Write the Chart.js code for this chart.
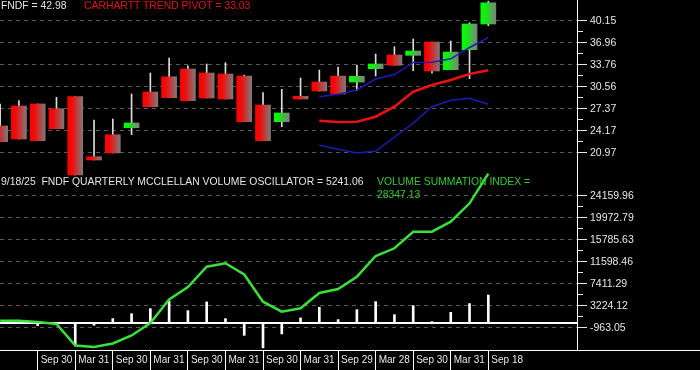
<!DOCTYPE html>
<html lang="en">
<head>
    <meta charset="UTF-8">
    <title>FNDF Quarterly McClellan Volume Oscillator</title>
    <script src="https://cdn.jsdelivr.net/npm/chart.js"></script>
    <style>
        body {
            margin: 0;
            width: 700px;
            height: 370px;
            overflow: hidden;
            position: relative;
            background-color: #000;
            font-family: "Liberation Sans", Arial, sans-serif;
        }
        #priceChart {
            position: absolute;
            left: 0;
            top: 0;
        }
        #volumeChart {
            position: absolute;
            left: 0;
            top: 170px;
        }
        .caption {
            position: absolute;
            font-size: 10.4px;
            line-height: 12.6px;
            white-space: pre;
        }
    </style>
</head>
<body>
    <canvas id="priceChart" width="700" height="176"></canvas>
    <canvas id="volumeChart" width="700" height="200"></canvas>

    <div class="caption" style="left:1px; top:0; color:#e4e4e4;">FNDF = 42.98</div>
    <div class="caption" style="left:84px; top:0; color:#e01414;">CARHARTT TREND PIVOT = 33.03</div>
    <div class="caption" style="left:1px; top:176px; color:#e4e4e4;">9/18/25  FNDF QUARTERLY MCCLELLAN VOLUME OSCILLATOR = 5241.06</div>
    <div class="caption" style="left:377px; top:176px; color:#30cc30;">VOLUME SUMMATION INDEX =<br>28347.13</div>

    <script>
        // quarterly bars, Q1 2019 .. Q3 2025
        const quarters = ['Q1 19', 'Q2 19', 'Q3 19', 'Q4 19', 'Q1 20', 'Q2 20', 'Q3 20', 'Q4 20', 'Q1 21',
            'Q2 21', 'Q3 21', 'Q4 21', 'Q1 22', 'Q2 22', 'Q3 22', 'Q4 22', 'Q1 23', 'Q2 23', 'Q3 23',
            'Q4 23', 'Q1 24', 'Q2 24', 'Q3 24', 'Q4 24', 'Q1 25', 'Q2 25', 'Q3 25'];

        const opens  = [24.85, 27.76, 28.05, 27.36, 29.11, 20.39, 23.58, 24.60, 29.79, 32.01, 33.13, 32.55, 32.41, 32.11,
            27.90, 25.47, 29.16, 31.24, 32.11, 31.24, 33.18, 35.17, 35.12, 37.05, 33.03, 35.94, 39.67];
        const highs  = [28.05, 28.53, 28.05, 29.02, 29.11, 25.72, 25.87, 29.50, 32.55, 34.73, 33.61, 33.86, 34.05, 32.25,
            29.69, 30.18, 31.82, 32.99, 33.42, 33.71, 35.31, 36.37, 37.49, 37.05, 37.20, 39.86, 42.98];
        const lows   = [22.57, 22.96, 22.71, 24.46, 17.73, 19.91, 20.93, 23.58, 27.65, 28.96, 28.53, 28.92, 28.77, 25.47,
            22.71, 24.75, 28.77, 29.93, 29.50, 29.98, 32.11, 33.67, 32.88, 32.51, 33.03, 31.72, 39.42];
        const closes = [22.57, 22.96, 22.71, 24.46, 17.73, 19.91, 20.93, 25.29, 27.65, 28.96, 28.53, 28.92, 28.77, 25.47,
            22.71, 26.74, 28.77, 29.93, 29.50, 32.07, 33.86, 33.67, 35.75, 32.84, 35.60, 39.67, 42.75];

        const pivot     = [null, null, null, null, null, null, null, null, null, null, null, null, null, null, null, null, null,
            25.62, 25.42, 25.47, 26.20, 27.65, 29.83, 30.81, 31.53, 32.40, 32.95];
        const bandUpper = [null, null, null, null, null, null, null, null, null, null, null, null, null, null, null, null, null,
            29.11, 29.45, 30.08, 31.68, 32.33, 34.08, 34.10, 34.61, 36.26, 37.71];
        const bandLower = [null, null, null, null, null, null, null, null, null, null, null, null, null, null, null, null, null,
            22.04, 21.46, 20.93, 21.22, 23.25, 25.24, 27.65, 28.58, 28.87, 28.00];

        const oscillator = [0, 250, -550, -300, -4190, -500, 760, 1700, 2660, 4100, 2280, 3940, 760, -2420, -4800, -2150,
            900, 2910, 570, 2470, 4000, 1520, 3240, 50, 1960, 3620, 5241.06];
        const summation  = [369, 369, 121, -259, -4351, -4637, -3971, -2448, -69, 4404, 6783, 10647, 11294, 9162, 3985, 2082,
            2729, 5641, 6402, 8743, 12683, 14149, 17308, 17308, 19211, 22713, 28347.13];

        const axisQuarters = ['Q3 19', 'Q1 20', 'Q3 20', 'Q1 21', 'Q3 21', 'Q1 22', 'Q3 22', 'Q1 23', 'Q3 23', 'Q1 24', 'Q3 24', 'Q1 25', 'Q3 25'];
        const axisLabels   = ['Sep 30', 'Mar 31', 'Sep 30', 'Mar 31', 'Sep 30', 'Mar 31', 'Sep 30', 'Mar 31', 'Sep 29', 'Mar 28', 'Sep 30', 'Mar 31', 'Sep 18'];

        const priceTicks       = [40.15, 36.96, 33.76, 30.56, 27.37, 24.17, 20.97];
        const priceTickLabels  = ['40.15', '36.96', '33.76', '30.56', '27.37', '24.17', '20.97'];
        const volumeTicks      = [24159.96, 19972.79, 15785.63, 11598.46, 7411.29, 3224.12, -963.05];
        const volumeTickLabels = ['24159.96', '19972.79', '15785.63', '11598.46', '7411.29', '3224.12', '-963.05'];

        const X_MIN = -0.008;
        const X_MAX = 30.724;
        const labelFont = { family: "'Liberation Sans', Arial, sans-serif", size: 10.5 };
        const labelColor = '#e6e6e6';

        function series(values) {
            return quarters.map((q, i) => ({ x: i, y: values[i] }));
        }

        // labels hanging over the plot edge must not shrink the plot
        function noOverflow(scale) {
            scale.paddingTop = 0;
            scale.paddingBottom = 0;
            scale.paddingLeft = 0;
            scale.paddingRight = 0;
        }

        // major ticks with a short unlabeled tick halfway between each pair
        function withMinors(majors, extra) {
            const list = [];
            majors.forEach((v, k) => {
                list.push(v);
                if (k < majors.length - 1) list.push((v + majors[k + 1]) / 2);
            });
            (extra || []).forEach(v => list.push(v));
            return list.sort((a, b) => a - b).map(v => ({ value: v }));
        }

        function valueAxis(majors, labels, min, max, extraTicks) {
            const isMajor = ctx => ctx.tick && majors.includes(ctx.tick.value);
            const isZero = ctx => ctx.tick && extraTicks && extraTicks.includes(ctx.tick.value);
            return {
                position: 'right',
                min: min,
                max: max,
                bounds: 'data',
                beginAtZero: false,
                afterBuildTicks: scale => { scale.ticks = withMinors(majors, extraTicks); },
                afterFit: scale => {
                    scale.width = 123;
                    noOverflow(scale);
                },
                grid: {
                    color: ctx => isZero(ctx) ? '#ffffff' : (isMajor(ctx) ? '#5a5a5a' : 'rgba(0,0,0,0)'),
                    lineWidth: ctx => isZero(ctx) ? 2 : 1,
                    tickLength: 10,
                    tickColor: ctx => isZero(ctx) ? 'rgba(0,0,0,0)' : '#e6e6e6',
                    tickBorderDash: ctx => isMajor(ctx) ? [] : [5, 20]
                },
                border: {
                    display: true,
                    color: '#ffffff',
                    width: 1,
                    dash: ctx => (isMajor(ctx) && !isZero(ctx)) ? [4, 4] : []
                },
                ticks: {
                    autoSkip: false,
                    padding: 3,
                    color: labelColor,
                    font: labelFont,
                    callback: value => {
                        const k = majors.indexOf(value);
                        return k >= 0 ? labels[k] : '';
                    }
                }
            };
        }

        function candleFill(context) {
            const i = context.dataIndex;
            const up = closes[i] >= opens[i];
            const chart = context.chart;
            const x = chart.scales.x ? chart.scales.x.getPixelForValue(i) : NaN;
            if (!isFinite(x)) return up ? '#10e010' : '#e81010';
            const g = chart.ctx.createLinearGradient(x - 7.5, 0, x + 7.5, 0);
            if (up) {
                g.addColorStop(0, '#00ff00');
                g.addColorStop(0.3, '#14ec14');
                g.addColorStop(1, '#7a827a');
            } else {
                g.addColorStop(0, '#ff0000');
                g.addColorStop(0.3, '#f00c0c');
                g.addColorStop(1, '#807878');
            }
            return g;
        }

        const baseOptions = {
            responsive: false,
            animation: false,
            layout: { padding: 0, autoPadding: false },
            plugins: { legend: { display: false }, tooltip: { enabled: false } }
        };

        new Chart(document.getElementById('priceChart'), {
            type: 'bar',
            data: {
                datasets: [
                    { type: 'line', data: series(pivot), borderColor: '#e81212', borderWidth: 2.5, pointRadius: 0 },
                    { type: 'line', data: series(bandUpper), borderColor: '#1c1cb0', borderWidth: 1.5, pointRadius: 0 },
                    { type: 'line', data: series(bandLower), borderColor: '#1c1cb0', borderWidth: 1.5, pointRadius: 0 },
                    {
                        data: quarters.map((q, i) => ({ x: i, y: [opens[i], closes[i]] })),
                        backgroundColor: candleFill,
                        borderWidth: 0,
                        barThickness: 15,
                        grouped: false
                    },
                    {
                        data: quarters.map((q, i) => ({ x: i, y: [lows[i], highs[i]] })),
                        backgroundColor: '#dcdcdc',
                        borderWidth: 0,
                        barThickness: 1,
                        grouped: false
                    }
                ]
            },
            options: {
                ...baseOptions,
                scales: {
                    x: { type: 'linear', min: X_MIN, max: X_MAX, offset: false, grid: { offset: false }, display: false },
                    y: valueAxis(priceTicks, priceTickLabels, 17.584, 43.158)
                }
            }
        });

        // white base line running under the whole picture
        const baseLine = {
            id: 'baseLine',
            afterDraw(chart) {
                const ctx = chart.ctx;
                const y = Math.round(chart.chartArea.bottom) + 0.5;
                ctx.save();
                ctx.strokeStyle = '#ffffff';
                ctx.lineWidth = 1;
                ctx.beginPath();
                ctx.moveTo(0, y);
                ctx.lineTo(chart.width, y);
                ctx.stroke();
                ctx.restore();
            }
        };

        const axisIndex = axisQuarters.map(q => quarters.indexOf(q));

        new Chart(document.getElementById('volumeChart'), {
            type: 'bar',
            data: {
                datasets: [
                    { type: 'line', data: series(summation), borderColor: '#3ae03a', borderWidth: 2.5, pointRadius: 0 },
                    {
                        data: series(oscillator),
                        backgroundColor: '#ffffff',
                        borderWidth: 0,
                        barThickness: 2,
                        grouped: false
                    }
                ]
            },
            options: {
                ...baseOptions,
                scales: {
                    x: {
                        type: 'linear',
                        min: X_MIN,
                        max: X_MAX,
                        offset: false,
                        afterBuildTicks: scale => { scale.ticks = axisIndex.map(v => ({ value: v })); },
                        afterFit: scale => {
                            scale.height = 20;
                            noOverflow(scale);
                        },
                        grid: {
                            offset: false,
                            drawOnChartArea: false,
                            tickLength: 20,
                            tickColor: '#ffffff'
                        },
                        border: { display: false },
                        ticks: {
                            autoSkip: false,
                            maxRotation: 0,
                            minRotation: 0,
                            align: 'start',
                            labelOffset: 3,
                            padding: -16,
                            color: labelColor,
                            font: { family: "'Liberation Sans', Arial, sans-serif", size: 10 },
                            callback: value => {
                                const k = axisIndex.indexOf(value);
                                return k >= 0 ? axisLabels[k] : '';
                            }
                        }
                    },
                    y: valueAxis(volumeTicks, volumeTickLabels, -5207.9, 29051.5, [0])
                }
            },
            plugins: [baseLine]
        });
    </script>
</body>
</html>
